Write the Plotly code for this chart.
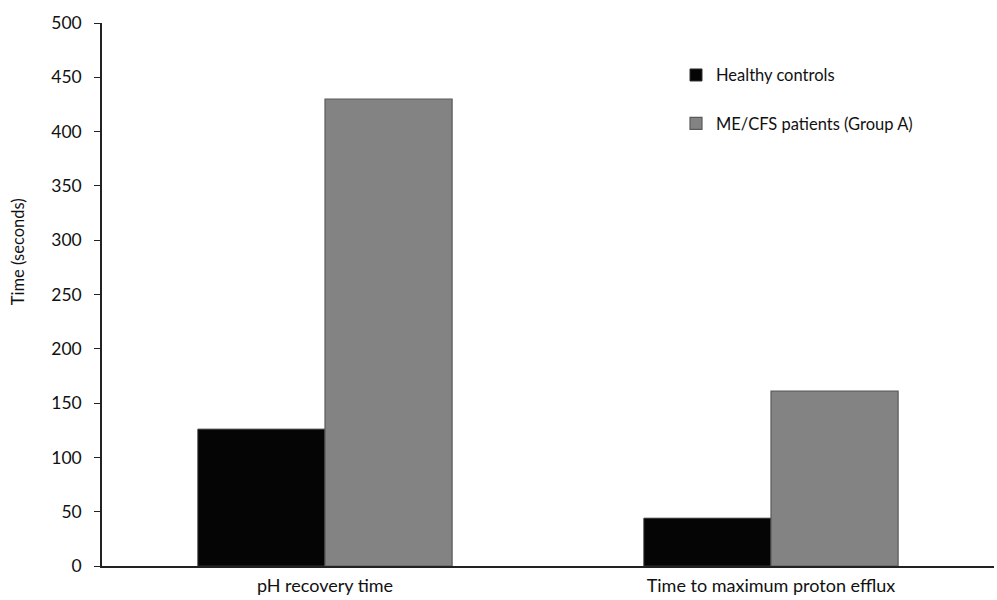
import plotly.graph_objects as go

categories = ["pH recovery time", "Time to maximum proton efflux"]
healthy = [126, 44]
mecfs = [430, 161]
series_names = ["Healthy controls", "ME/CFS patients (Group A)"]
y_ticks = [0, 50, 100, 150, 200, 250, 300, 350, 400, 450, 500]
y_title = "Time (seconds)"

FONT = "Lato, Open Sans, sans-serif"
TXT = "#111111"

fig = go.Figure()
fig.add_trace(go.Bar(x=categories, y=healthy, name=series_names[0],
                     marker=dict(color="#050505", line=dict(color="#303030", width=1)),
                     legendgroup="a"))
fig.add_trace(go.Bar(x=categories, y=mecfs, name=series_names[1],
                     marker=dict(color="#838383", line=dict(color="#5a5a5a", width=1.2)),
                     legendgroup="b"))

fig.update_layout(
    width=997, height=600,
    margin=dict(l=102, r=3, t=23, b=34, autoexpand=False),
    paper_bgcolor="white", plot_bgcolor="white",
    barmode="group", bargap=0.43, bargroupgap=0,
    font=dict(family=FONT, size=16, color=TXT),
    legend=dict(x=0.6435, y=0.936, xanchor="left", yanchor="top",
                font=dict(family=FONT, size=16.5, color=TXT),
                tracegroupgap=24, itemwidth=30, bgcolor="rgba(0,0,0,0)"),
    showlegend=True,
    annotations=[dict(text=y_title, textangle=-90, xref="paper", yref="paper",
                      x=0, xshift=-84, y=0.578, xanchor="center", yanchor="middle",
                      showarrow=False, font=dict(family=FONT, size=16.5, color=TXT))],
)
fig.update_xaxes(showline=True, linecolor="#222", linewidth=1.5, automargin=False,
                 ticks="", showgrid=False, range=[-0.5, 1.5], ticklabelstandoff=3,
                 tickfont=dict(family=FONT, size=18, color=TXT))
fig.update_yaxes(range=[0, 500], tickvals=y_ticks, showline=True, linecolor="#222",
                 linewidth=1.5, ticks="outside", ticklen=6, tickcolor="#222", automargin=False,
                 showgrid=False, zeroline=False, ticklabelstandoff=9,
                 tickfont=dict(family=FONT, size=17.5, color=TXT))

fig.write_html("out.html", config={"displayModeBar": False},
               post_script="document.body.style.margin='0';document.body.style.overflow='hidden';")
